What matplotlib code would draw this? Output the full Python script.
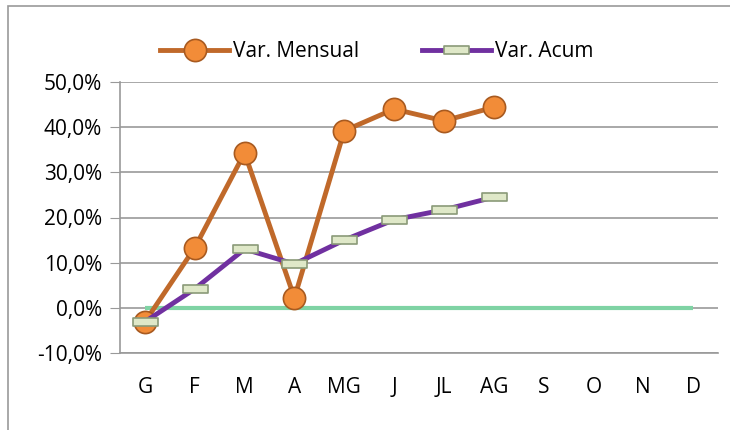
import matplotlib.pyplot as plt
from matplotlib.path import Path
from matplotlib.patches import Rectangle
from matplotlib.ticker import FuncFormatter

plt.rcParams['font.family'] = ['Open Sans', 'DejaVu Sans']

months = ["G", "F", "M", "A", "MG", "J", "JL", "AG", "S", "O", "N", "D"]
var_mensual = [-3.1, 13.3, 34.3, 2.2, 39.2, 44.0, 41.4, 44.4]
var_acum = [-3.1, 4.2, 13.0, 9.7, 15.0, 19.5, 21.7, 24.5]
zero_line = [0] * 12

fig = plt.figure(figsize=(7.3, 4.3), dpi=100)
ax = fig.add_axes([120 / 730, 77 / 430, 598 / 730, 271 / 430])

# outer chart border
fig.patches.append(Rectangle((8 / 730, -0.05), 1.0, 1.036, transform=fig.transFigure,
                             fill=False, edgecolor="#999999", linewidth=1.2))

x = list(range(len(months)))
ax.plot(x, zero_line, color="#7fd3a4", linewidth=3, zorder=2, solid_capstyle="butt")

# flat rectangle marker for the cumulative series
rect = Path([(-1.4, -0.4), (1.4, -0.4), (1.4, 0.4), (-1.4, 0.4), (-1.4, -0.4)],
            [Path.MOVETO, Path.LINETO, Path.LINETO, Path.LINETO, Path.CLOSEPOLY])

ax.plot(x[:len(var_mensual)], var_mensual, color="#c0692a", linewidth=3.5,
        marker="o", markersize=16, markerfacecolor="#f28c38",
        markeredgecolor="#a85a20", markeredgewidth=1.2, label="Var. Mensual", zorder=3)
ax.plot(x[:len(var_acum)], var_acum, color="#7030a0", linewidth=3.5,
        marker=rect, markersize=18, markerfacecolor="#dfe8c8",
        markeredgecolor="#8a9a78", markeredgewidth=1.2, label="Var. Acum", zorder=4)

ax.set_xlim(-0.5, 11.5)
ax.set_ylim(-10, 50)
ax.set_yticks(range(-10, 51, 10))
ax.yaxis.set_major_formatter(FuncFormatter(lambda v, p: f"{v:.1f}%".replace(".", ",")))
ax.set_xticks(x)
ax.set_xticklabels(months)
ax.grid(axis="y", color="#999999", linewidth=1.2)
ax.set_axisbelow(True)

for s in ["top", "right"]:
    ax.spines[s].set_visible(False)
ax.spines["left"].set_color("#999999")
ax.spines["bottom"].set_color("#999999")
ax.spines["left"].set_linewidth(1.2)
ax.spines["bottom"].set_linewidth(1.2)
ax.tick_params(axis="y", length=7, color="#999999", labelsize=15, pad=6)
ax.tick_params(axis="x", length=0, labelsize=15, pad=17)

fig.legend(loc="upper left", bbox_to_anchor=(152 / 730, 1 - 33 / 430), ncol=2,
           frameon=False, fontsize=15, handlelength=3.3, handletextpad=0.2,
           columnspacing=3.0, borderaxespad=0)

fig.savefig("out.png", dpi=100)
